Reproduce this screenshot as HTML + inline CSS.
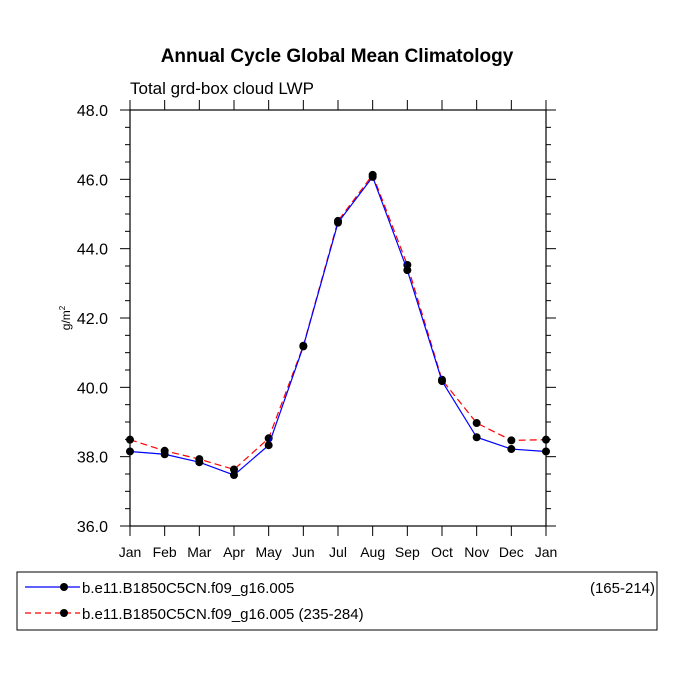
<!DOCTYPE html>
<html><head><meta charset="utf-8"><style>
body{margin:0;background:#fff;}
svg text{font-family:"Liberation Sans",sans-serif;}
</style></head><body>
<svg id="chart" width="675" height="676" xmlns="http://www.w3.org/2000/svg">
<text x="337" y="62" text-anchor="middle" font-size="19" font-weight="bold">Annual Cycle Global Mean Climatology</text>
<text x="130" y="94" font-size="17">Total grd-box cloud LWP</text>
<text transform="translate(70,318) rotate(-90)" text-anchor="middle" font-size="12">g/m<tspan dy="-5" font-size="8">2</tspan></text>
<g id="axes"></g>
<g id="series"></g>
<g>
<rect x="17" y="572" width="640" height="58" fill="none" stroke="#000" stroke-width="1"/>
<line x1="25" y1="587" x2="80" y2="587" stroke="#0000ff" stroke-width="1.2"/>
<circle cx="64" cy="587" r="4" fill="#000"/>
<text x="82" y="593" font-size="15">b.e11.B1850C5CN.f09_g16.005</text>
<text x="655" y="593" font-size="15" text-anchor="end">(165-214)</text>
<line x1="25" y1="613" x2="80" y2="613" stroke="#ff0000" stroke-width="1.2" stroke-dasharray="6,4"/>
<circle cx="64" cy="613" r="4" fill="#000"/>
<text x="82" y="619" font-size="15">b.e11.B1850C5CN.f09_g16.005 (235-284)</text>
</g>
</svg>
<script>
const months = ["Jan","Feb","Mar","Apr","May","Jun","Jul","Aug","Sep","Oct","Nov","Dec","Jan"];
const seriesBlue = [38.15,38.07,37.84,37.47,38.33,41.18,44.75,46.07,43.38,40.18,38.56,38.22,38.15];
const seriesRed = [38.49,38.17,37.93,37.63,38.53,41.2,44.8,46.13,43.53,40.22,38.97,38.47,38.49];
const yTicks = [36,38,40,42,44,46,48];
const NS="http://www.w3.org/2000/svg";
const L=130,R=546,T=110,B=526,ymin=36,ymax=48;
const xs=i=>L+i*(R-L)/(months.length-1);
const ys=v=>B-(v-ymin)/(ymax-ymin)*(B-T);
function mk(tag,attrs,parent){const e=document.createElementNS(NS,tag);for(const k in attrs)e.setAttribute(k,attrs[k]);parent.appendChild(e);return e;}
const ax=document.getElementById('axes');
const frame=mk('rect',{x:L,y:T,width:R-L,height:B-T,fill:'none',stroke:'#000','stroke-width':1.2},ax);


for(let v=ymin;v<=ymax+1e-9;v+=0.5){
  const maj=Math.abs(v/2-Math.round(v/2))<1e-6;
  const len=maj?10:5;const y=ys(v);
  mk('line',{x1:L-len,y1:y,x2:L,y2:y,stroke:'#000'},ax);
  mk('line',{x1:R,y1:y,x2:R+len,y2:y,stroke:'#000'},ax);
}
yTicks.forEach(v=>{
  const t=mk('text',{x:L-22,y:ys(v)+6,'text-anchor':'end','font-size':16},ax);
  t.textContent=v.toFixed(1);
  
  
});
months.forEach((m,i)=>{
  const x=xs(i);
  mk('line',{x1:x,y1:T,x2:x,y2:T-10,stroke:'#000'},ax);
  mk('line',{x1:x,y1:B,x2:x,y2:B+10,stroke:'#000'},ax);
  const t=mk('text',{x:x,y:B+31,'text-anchor':'middle','font-size':14},ax);
  t.textContent=m;
  
  
});
const sg=document.getElementById('series');
function draw(vals,color,dash,name){
  const p=mk('polyline',{points:vals.map((v,i)=>xs(i)+','+ys(v)).join(' '),fill:'none',stroke:color,'stroke-width':1.2},sg);
  if(dash)p.setAttribute('stroke-dasharray',dash);
  
  
  vals.forEach((v,i)=>{
    const c=mk('circle',{cx:xs(i),cy:ys(v),r:4,fill:'#000'},sg);
    
    
  });
}
draw(seriesRed,'#ff0000','7,4','series-red');
draw(seriesBlue,'#0000ff',null,'series-blue');
</script>
</body></html>
